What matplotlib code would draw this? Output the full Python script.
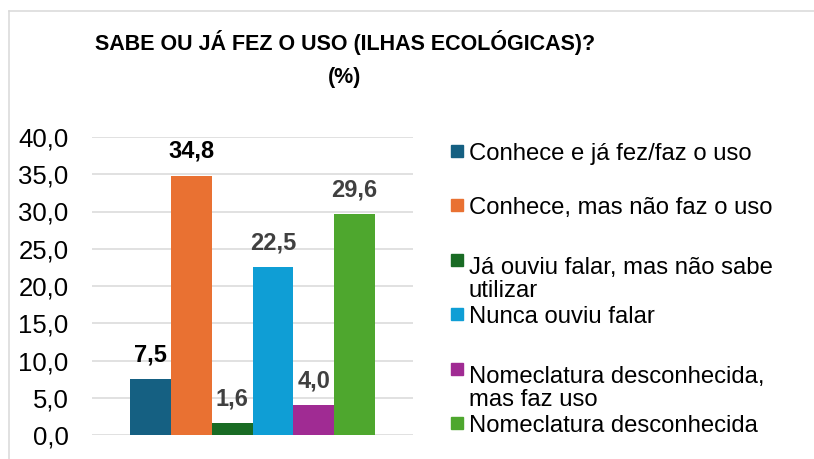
import numpy as np
import matplotlib
matplotlib.use("Agg")
import matplotlib.pyplot as plt
from matplotlib.lines import Line2D
from matplotlib.patches import Rectangle

plt.rcParams['font.family'] = ['Liberation Sans', 'DejaVu Sans']

title = "SABE OU JÁ FEZ O USO (ILHAS ECOLÓGICAS)?\n(%)"
categories = [
    "Conhece e já fez/faz o uso",
    "Conhece, mas não faz o uso",
    "Já ouviu falar, mas não sabe\nutilizar",
    "Nunca ouviu falar",
    "Nomeclatura desconhecida,\nmas faz uso",
    "Nomeclatura desconhecida",
]
values = [7.5, 34.8, 1.6, 22.5, 4.0, 29.6]
colors = ["#156082", "#E97132", "#196B24", "#0F9ED5", "#A02B93", "#4EA72E"]
label_colors = ["#000000", "#000000", "#404040", "#404040", "#404040", "#404040"]
yticks = [0, 5, 10, 15, 20, 25, 30, 35, 40]

W, H = 814, 459
fig = plt.figure(figsize=(W / 100, H / 100), dpi=100)
ax = fig.add_axes([92 / W, 1 - 435 / H, (413 - 92) / W, (435 - 137) / H])

x = np.arange(len(values)) - (len(values) - 1) / 2
bars = ax.bar(x, values, width=1.0, color=colors, zorder=3)

# bold value labels above each bar
for b, v, c in zip(bars, values, label_colors):
    ax.annotate(f"{v:.1f}".replace(".", ","),
                (b.get_x() + b.get_width() / 2, b.get_height()),
                xytext=(0, 13), textcoords="offset points",
                ha="center", va="baseline", fontsize=17, fontweight="bold", color=c)

ax.set_xlim(-3.93, 3.93)
ax.set_ylim(0, 40)
ax.set_yticks(yticks)
ax.set_yticklabels([f"{t:.1f}".replace(".", ",") for t in yticks], fontsize=18.5)
ax.tick_params(axis="y", length=0, pad=17)
ax.set_xticks([])
ax.grid(axis="y", color="#d9d9d9", linewidth=1.1, zorder=0)
for s in ax.spines.values():
    s.set_visible(False)

# title, one text per line
for k, line in enumerate(title.split("\n")):
    fig.text(345 / W, 1 - (50 + k * 33) / H, line, ha="center", va="baseline",
             fontsize=15.5, fontweight="bold")

# legend drawn like the Excel one: marker aligned with the first text line
step = 54.4
line_h = 28
for i, (lab, col) in enumerate(zip(categories, colors)):
    base = 160 + i * step
    n_extra = lab.count("\n")
    fig.add_artist(Rectangle((451 / W, 1 - (base - 3) / H), 12 / W, 12 / H,
                             transform=fig.transFigure, color=col))
    fig.text(469 / W, 1 - (base + n_extra * line_h) / H, lab, ha="left", va="baseline",
             fontsize=17.2, linespacing=1.06)

# chart area border (top and left visible)
fig.add_artist(Line2D([8.5 / W, 1], [1 - 10.5 / H, 1 - 10.5 / H], color="#d9d9d9",
                      linewidth=1.1, transform=fig.transFigure))
fig.add_artist(Line2D([8.5 / W, 8.5 / W], [0, 1 - 10.5 / H], color="#d9d9d9",
                      linewidth=1.1, transform=fig.transFigure))

fig.savefig("out.png", dpi=100)
